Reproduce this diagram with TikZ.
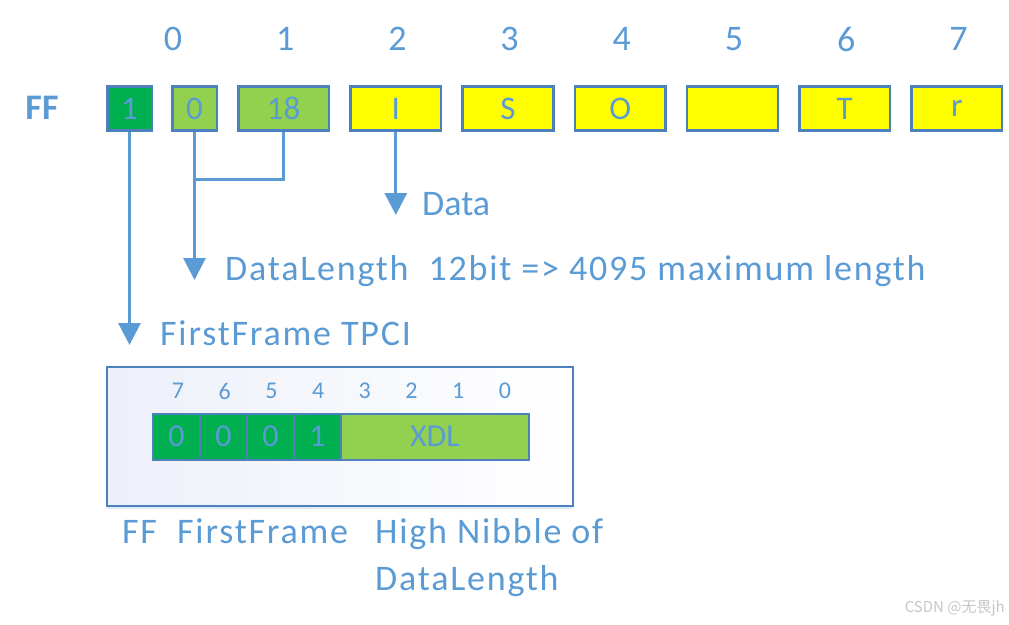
\documentclass[tikz,border=0pt]{standalone}
\usepackage{fontspec}
\setmainfont{Carlito}
\newfontfamily\widefont[LetterSpace=5]{Carlito}
\newfontfamily\cjkfont{Noto Sans CJK SC}
\usepackage{tikz}
\usetikzlibrary{positioning, arrows.meta, shadows}
\definecolor{diagline}{HTML}{5B9BD5}
\definecolor{cellline}{HTML}{4F80BE}
\definecolor{darkgreen}{HTML}{00B050}
\definecolor{lightgreen}{HTML}{92D050}
\definecolor{datayel}{HTML}{FFFF00}
\definecolor{boxshade}{HTML}{EDF0F9}

\begin{document}
\begin{tikzpicture}[x=1pt, y=-1pt, font=\fontsize{36}{40}\selectfont, text=diagline,
  cell/.style={draw=cellline, line width=2.5pt, minimum height=44pt, minimum width=44.5pt, inner sep=0pt, font=\fontsize{33}{33}\selectfont},
  wide/.style={cell, minimum width=90.7pt},
  bit/.style={draw=cellline, line width=2pt, minimum height=46pt, minimum width=47pt, inner sep=0pt, font=\fontsize{32}{32}\selectfont},
  bitno/.style={font=\fontsize{24}{24}\selectfont, inner sep=0pt},
  frame/.style={draw=cellline, line width=2pt, minimum width=466pt, minimum height=139pt, left color=boxshade, right color=white,
    drop shadow={shadow xshift=0pt, shadow yshift=-3pt, fill=diagline, opacity=.2}},
  conn/.style={draw=diagline, line width=3pt},
  arr/.style={conn, -{Triangle[width=22pt,length=22pt]}},
  lbl/.style={anchor=base west, inner sep=0pt, font=\widefont\fontsize{36}{40}\selectfont}]
\useasboundingbox (0,0) rectangle (1009,624);

% byte numbers
\foreach \i in {0,...,7}
  \node (idx\i) at (173+112.2*\i, 39) {\i};

% first frame bytes
\node[font=\bfseries\fontsize{36}{40}\selectfont] (ffname) at (42,108) {FF};
\node[cell, fill=darkgreen] (ff1) at (129.5,108.5) {1};
\node[cell, fill=lightgreen, right=18pt of ff1] (ff0) {0};
\node[wide, fill=lightgreen, right=19pt of ff0] (len) {18};
\node[wide, fill=datayel, right=19pt of len] (d2) {I};
\node[wide, fill=datayel, right=19pt of d2] (d3) {S};
\node[wide, fill=datayel, right=19pt of d3] (d4) {O};
\node[wide, fill=datayel, right=19pt of d4] (d5) {};
\node[wide, fill=datayel, right=19pt of d5] (d6) {T};
\node[wide, fill=datayel, right=19pt of d6] (d7) {r};

% labels
\node[anchor=base west, inner sep=0pt] (data) at (422,215) {Data};
\node[lbl] (dlen) at (225,280) {DataLength\hspace{20pt}12bit => 4095 maximum length};
\node[lbl] (tpci) at (160,345) {FirstFrame TPCI};

\coordinate (join) at (ff0.south |- 0,179);
\draw[arr] (ff1.south) -- (ff1.south |- tpci.base);
\draw[arr] (ff0.south) -- (ff0.south |- dlen.base);
\draw[conn] (len.south) |- (join);
\draw[arr] (d2.south) -- (d2.south |- data.base);

% TPCI byte
\node[frame] (tpcibox) at (340,436.5) {};
\foreach \i [count=\k from 0] in {7,6,...,0}
  \node[bitno] (bn\i) at (178+46.7*\k, 391) {\i};
\node[bit, fill=darkgreen] (b7) at (176.5,436.5) {0};
\node[bit, fill=darkgreen, right=-2pt of b7] (b6) {0};
\node[bit, fill=darkgreen, right=-2pt of b6] (b5) {0};
\node[bit, fill=darkgreen, right=-2pt of b5] (b4) {1};
\node[bit, fill=lightgreen, minimum width=188pt, right=-2pt of b4] (xdl) {XDL};

\node[lbl] (ffabbr) at (122,543) {FF};
\node[lbl] (ffword) at (177,543) {FirstFrame};
\node[lbl] (nibble) at (375,543) {High Nibble of};
\node[lbl] (nibble2) at (375,590) {DataLength};

\node[anchor=base east, inner sep=0pt, text=gray!45, font=\cjkfont\fontsize{15}{15}\selectfont] (mark) at (1005,612) {CSDN @无畏jh};
\end{tikzpicture}
\end{document}
